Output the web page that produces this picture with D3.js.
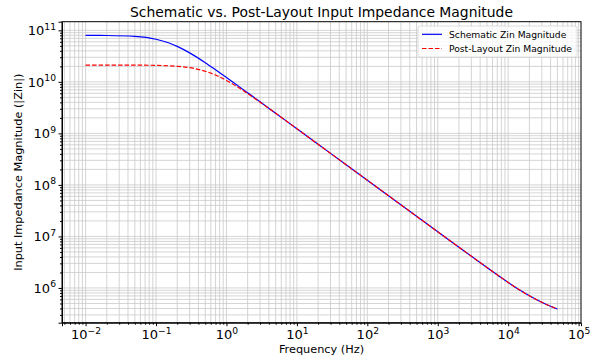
<!DOCTYPE html>
<html>
<head>
<meta charset="utf-8">
<script src="https://cdn.jsdelivr.net/npm/d3@7"></script>
<style>
  body { margin: 0; background: #fff; }
  svg { display: block; font-family: "DejaVu Sans", sans-serif; }
</style>
</head>
<body>
<div id="chart"></div>
<script>
// values
const freqHz = [0.01, 0.02, 0.05, 0.1, 0.15, 0.2, 0.3, 0.5, 0.7, 1, 1.5, 2, 3, 5, 10, 20, 50,
  100, 200, 500, 1000, 2000, 5000, 10000, 15000, 20000, 30000, 40000, 50000];
const schematicZin = [7.98e10, 7.93e10, 7.61e10, 6.71e10, 5.73e10, 4.88e10, 3.65e10, 2.36e10, 1.72e10,
  1.22e10, 8.17e9, 6.14e9, 4.10e9, 2.46e9, 1.232e9, 6.16e8, 2.46e8,
  1.232e8, 6.16e7, 2.46e7, 1.232e7, 6.18e6, 2.495e6, 1.282e6, 8.91e5, 7.05e5, 5.26e5, 4.41e5, 3.90e5];
const postLayoutZin = [2.12e10, 2.119e10, 2.112e10, 2.089e10, 2.053e10, 2.005e10, 1.884e10, 1.608e10, 1.355e10,
  1.066e10, 7.67e9, 5.92e9, 4.04e9, 2.45e9, 1.232e9, 6.16e8, 2.46e8,
  1.232e8, 6.16e7, 2.46e7, 1.232e7, 6.18e6, 2.495e6, 1.282e6, 8.91e5, 7.05e5, 5.26e5, 4.41e5, 3.90e5];
const xTickExps = [-2, -1, 0, 1, 2, 3, 4, 5];
const yTickExps = [6, 7, 8, 9, 10, 11];
const seriesNames = ["Schematic Zin Magnitude", "Post-Layout Zin Magnitude"];

const width = 598;
const height = 360;
const margin = { top: 21.7, right: 17, bottom: 37.3, left: 62 };
const fontFam = "DejaVu Sans, sans-serif";

// log padding like matplotlib's 5% margins
function padLog(lo, hi) {
  const a = Math.log10(lo), b = Math.log10(hi), p = (b - a) * 0.05;
  return [Math.pow(10, a - p), Math.pow(10, b + p)];
}

const xScale = d3.scaleLog()
  .domain(padLog(d3.min(freqHz), d3.max(freqHz)))
  .range([margin.left, width - margin.right]);

const allZ = schematicZin.concat(postLayoutZin);
const yScale = d3.scaleLog()
  .domain(padLog(d3.min(allZ), d3.max(allZ)))
  .range([height - margin.bottom, margin.top]);

const svg = d3.select("#chart")
  .append("svg")
  .attr("width", width)
  .attr("height", height);

// minor + major grid values
const xMinor = [], yMinor = [];
for (let e = -3; e <= 5; e++) for (let m = 2; m <= 9; m++) {
  const v = m * Math.pow(10, e);
  if (v > xScale.domain()[0] && v < xScale.domain()[1]) xMinor.push(v);
}
for (let e = 5; e <= 11; e++) for (let m = 2; m <= 9; m++) {
  const v = m * Math.pow(10, e);
  if (v > yScale.domain()[0] && v < yScale.domain()[1]) yMinor.push(v);
}
const xMajor = xTickExps.map(e => Math.pow(10, e));
const yMajor = yTickExps.map(e => Math.pow(10, e));

const grid = svg.append("g").attr("class", "grid")
  .attr("stroke", "#c9c9c9")
  .attr("stroke-width", 0.8);

grid.selectAll("line.gx")
  .data(xMinor.concat(xMajor.filter(v => v < xScale.domain()[1])))
  .join("line")
  .attr("class", "gx")
  .attr("x1", d => xScale(d)).attr("x2", d => xScale(d))
  .attr("y1", margin.top).attr("y2", height - margin.bottom);

grid.selectAll("line.gy")
  .data(yMinor.concat(yMajor))
  .join("line")
  .attr("class", "gy")
  .attr("y1", d => yScale(d)).attr("y2", d => yScale(d))
  .attr("x1", margin.left).attr("x2", width - margin.right);

// curves
const line = d3.line()
  .x((d, i) => xScale(freqHz[i]))
  .y(d => yScale(d))
  .curve(d3.curveMonotoneX);

svg.append("path")
  .datum(schematicZin)
  .attr("fill", "none")
  .attr("stroke", "#0000ff")
  .attr("stroke-width", 1.2)
  .attr("d", line);

svg.append("path")
  .datum(postLayoutZin)
  .attr("fill", "none")
  .attr("stroke", "#ff0000")
  .attr("stroke-width", 1.2)
  .attr("stroke-dasharray", "4.5,2")
  .attr("d", line);

// axes, 10^n labels
function powLabel(g) {
  g.attr("font-family", fontFam);
  g.selectAll(".tick text").each(function(d) {
    const t = d3.select(this).text(null)
      .attr("font-size", "13px")
      .attr("fill", "#000");
    const e = Math.round(Math.log10(d));
    t.append("tspan").text("10");
    t.append("tspan")
      .attr("dy", "-5.5")
      .attr("font-size", "9.2px")
      .text(String(e).replace("-", "\u2212"));
  });
}

svg.append("g")
  .attr("transform", `translate(0,${height - margin.bottom})`)
  .call(d3.axisBottom(xScale).tickValues(xMajor).tickSize(3.5).tickPadding(3.6))
  .call(powLabel);

svg.append("g")
  .attr("transform", `translate(0,${height - margin.bottom})`)
  .call(d3.axisBottom(xScale).tickValues(xMinor).tickSize(2).tickFormat(""))
  .call(g => g.select(".domain").remove());

svg.append("g")
  .attr("transform", `translate(${margin.left},0)`)
  .call(d3.axisLeft(yScale).tickValues(yMajor).tickSize(3.5).tickPadding(2.5))
  .call(powLabel);

svg.append("g")
  .attr("transform", `translate(${margin.left},0)`)
  .call(d3.axisLeft(yScale).tickValues(yMinor).tickSize(2).tickFormat(""))
  .call(g => g.select(".domain").remove());

// frame
svg.append("rect")
  .attr("x", margin.left)
  .attr("y", margin.top)
  .attr("width", width - margin.right - margin.left)
  .attr("height", height - margin.bottom - margin.top)
  .attr("fill", "none")
  .attr("stroke", "#000")
  .attr("stroke-width", 1);

// title + labels
const midX = (margin.left + width - margin.right) / 2;
svg.append("text")
  .attr("x", midX)
  .attr("y", 16.5)
  .attr("text-anchor", "middle")
  .attr("font-size", "13.9px")
  .text("Schematic vs. Post-Layout Input Impedance Magnitude");

svg.append("text")
  .attr("x", midX)
  .attr("y", 352.5)
  .attr("text-anchor", "middle")
  .attr("font-size", "11.3px")
  .text("Frequency (Hz)");

svg.append("text")
  .attr("transform", `translate(21.6,${(margin.top + height - margin.bottom) / 2}) rotate(-90)`)
  .attr("text-anchor", "middle")
  .attr("font-size", "11.3px")
  .text("Input Impedance Magnitude (|Zin|)");

// legend
const legend = svg.append("g").attr("transform", "translate(418,26)");
legend.append("rect")
  .attr("width", 159).attr("height", 31)
  .attr("rx", 2)
  .attr("fill", "#fff").attr("fill-opacity", 0.8)
  .attr("stroke", "#d5d5d5").attr("stroke-width", 0.8);

const styles = [{ c: "#0000ff", dash: null }, { c: "#ff0000", dash: "4.5,2" }];
seriesNames.forEach((name, i) => {
  const yy = 8.3 + i * 14.2;
  legend.append("line")
    .attr("x1", 4).attr("x2", 24)
    .attr("y1", yy).attr("y2", yy)
    .attr("stroke", styles[i].c)
    .attr("stroke-width", 1.2)
    .attr("stroke-dasharray", styles[i].dash);
  legend.append("text")
    .attr("x", 31).attr("y", yy + 3.3)
    .attr("font-size", "9.2px")
    .text(name);
});
</script>
</body>
</html>
